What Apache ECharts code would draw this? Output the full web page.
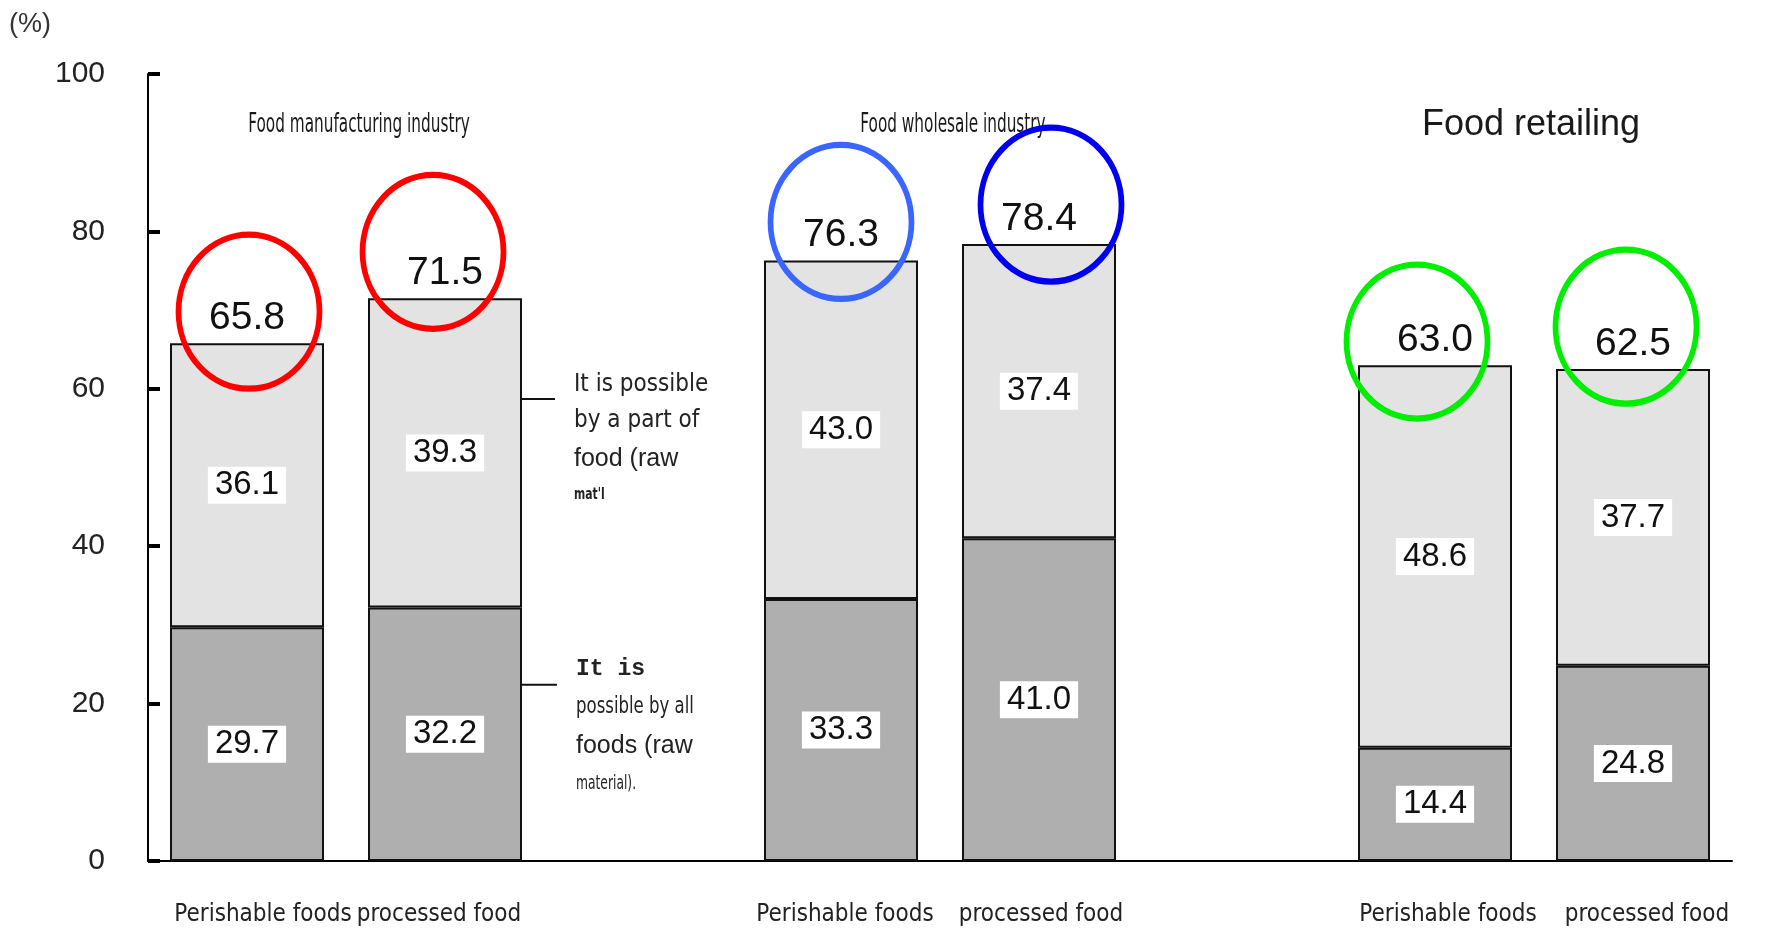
<!DOCTYPE html>
<html>
<head>
<meta charset="utf-8">
<script src="https://cdn.jsdelivr.net/npm/echarts@6/dist/echarts.min.js"></script>
<style>
html,body{margin:0;padding:0;background:#fff;}
#chart{width:1786px;height:941px;}
</style>
</head>
<body>
<div id="chart"></div>
<script>
// ---- data ----
const categories = ['Perishable foods', 'processed food', '', 'Perishable foods', 'processed food', '', 'Perishable foods', 'processed food'];
const possibleAll = [29.7, 32.2, '-', 33.3, 41.0, '-', 14.4, 24.8];
const possiblePart = [36.1, 39.3, '-', 43.0, 37.4, '-', 48.6, 37.7];
const totals = [65.8, 71.5, '-', 76.3, 78.4, '-', 63.0, 62.5];
const yTicks = [0, 20, 40, 60, 80, 100];
const groupTitles = ['Food manufacturing industry', 'Food wholesale industry', 'Food retailing'];
const groupIndex = [[0, 1], [3, 4], [6, 7]];
const circleCenters = [69.8, 77.4, '-', 81.2, 83.4, '-', 66.0, 67.9];
const circleColors = ['#ff0000', '#ff0000', null, '#3a66ff', '#0000ee', null, '#00ee00', '#00ee00'];
const unitLabel = '(%)';
const partLabel = ['It is possible', 'by a part of', 'food (raw', "mat'l"];
const allLabel = ['It is', 'possible by all', 'foods (raw', 'material).'];

const NARROW = "'Liberation Sans Narrow','Arial Narrow','DejaVu Sans Condensed','Liberation Sans',sans-serif";
const NUM = "'Liberation Sans',Arial,sans-serif";

const chart = echarts.init(document.getElementById('chart'));
const circleOffsetX = [2, -12, 0, 0, 12, 0, -18, -7];
const labelShift = [16, -6, 0, 4, 2, 0, 13, 14]; // px shift of category labels

const option = {
  animation: false,
  backgroundColor: '#ffffff',
  title: {
    text: unitLabel, left: 4, top: 6,
    textStyle: {fontFamily: NUM, fontSize: 27, fontWeight: 'normal', color: '#333'}
  },
  grid: {left: 148, right: 54, top: 74, bottom: 80, containLabel: false},
  xAxis: {
    type: 'category', data: categories, boundaryGap: true,
    axisLine: {lineStyle: {color: '#000', width: 2}},
    axisTick: {show: false},
    axisLabel: {
      interval: 0, margin: 42, color: '#222',
      fontFamily: NARROW, fontSize: 24,
      formatter: (v, i) => {
        if (!v) return '';
        const s = labelShift[i] || 0;
        return s >= 0 ? '{r|' + v + '}' : '{l|' + v + '}';
      },
      rich: {
        r: {fontFamily: NARROW, fontSize: 24, color: '#222'},
        l: {fontFamily: NARROW, fontSize: 24, color: '#222'}
      }
    }
  },
  yAxis: {
    type: 'value', min: 0, max: 100, interval: 20,
    splitLine: {show: false},
    axisLine: {show: true, lineStyle: {color: '#000', width: 2}},
    axisTick: {show: true, inside: true, length: 12, lineStyle: {color: '#000', width: 4}},
    axisLabel: {
      margin: 43, color: '#222', fontFamily: NUM, fontSize: 30,
      formatter: v => yTicks.indexOf(v) >= 0 ? String(v) : ''
    }
  },
  series: [
    {
      name: 'possible by all', type: 'bar', stack: 'total', barWidth: 154,
      data: possibleAll,
      itemStyle: {color: '#afafaf', borderColor: '#111', borderWidth: 2},
      label: {
        show: true, position: 'inside', color: '#111', fontFamily: NUM, fontSize: 33,
        backgroundColor: '#ffffff', padding: [3, 7, 1, 7],
        formatter: p => p.value.toFixed(1)
      }
    },
    {
      name: 'possible by a part', type: 'bar', stack: 'total', barWidth: 154,
      data: possiblePart,
      itemStyle: {color: '#e3e3e3', borderColor: '#111', borderWidth: 2},
      label: {
        show: true, position: 'inside', color: '#111', fontFamily: NUM, fontSize: 33,
        backgroundColor: '#ffffff', padding: [3, 7, 1, 7],
        formatter: p => p.value.toFixed(1)
      }
    },
    {
      name: 'total', type: 'scatter', data: totals, symbolSize: 1,
      itemStyle: {color: 'rgba(0,0,0,0)', opacity: 1},
      label: {
        show: true, position: 'top', distance: 5, color: '#111', opacity: 1,
        fontFamily: NUM, fontSize: 39,
        formatter: p => Number(Array.isArray(p.value) ? p.value[1] : p.value).toFixed(1)
      },
      z: 5
    },
    {
      name: 'circles', type: 'scatter',
      data: circleCenters.map((v, i) => v === '-' ? null : {
        value: [i, v],
        symbolOffset: [circleOffsetX[i], 0],
        itemStyle: {borderColor: circleColors[i]}
      }).filter(d => d),
      symbol: 'path://M0,50 A50,50 0 1,1 100,50 A50,50 0 1,1 0,50 Z',
      symbolSize: [141, 154],
      itemStyle: {color: 'rgba(0,0,0,0)', borderWidth: 6, opacity: 1},
      z: 6, silent: true
    }
  ]
};
// per-category label shift via rich padding
option.xAxis.axisLabel.formatter = (v, i) => {
  if (!v) return '';
  const s = labelShift[i] || 0;
  return '{t' + i + '|' + v + '}';
};
categories.forEach((c, i) => {
  const s = labelShift[i] || 0;
  option.xAxis.axisLabel.rich['t' + i] = {
    fontFamily: NARROW, fontSize: 24, color: '#222',
    padding: s >= 0 ? [0, 0, 0, 2 * s] : [0, -2 * s, 0, 0]
  };
});
chart.setOption(option);

function px(i, v) { return chart.convertToPixel({xAxisIndex: 0, yAxisIndex: 0}, [i, v]); }

const graphics = [];
// group titles
groupTitles.forEach((t, g) => {
  const a = px(groupIndex[g][0], 93.5), b = px(groupIndex[g][1], 93.5);
  const isRetail = g === 2;
  graphics.push({
    type: 'text', x: (a[0] + b[0]) / 2 + (isRetail ? -3 : 13), y: a[1],
    scaleX: isRetail ? 1 : 0.63,
    style: {
      text: t, align: 'center', verticalAlign: 'middle',
      font: isRetail ? ("36px " + NUM) : ("27px " + NARROW), fill: '#1a1a1a'
    }
  });
});
// leader lines and annotation texts
const barRight = px(1, 0)[0] + 77;
const lead1 = px(1, 58.7)[1];
const lead2 = px(1, 22.4)[1];
graphics.push({type: 'line', shape: {x1: barRight - 5, y1: lead1, x2: barRight + 33, y2: lead1}, style: {stroke: '#111', lineWidth: 2}});
graphics.push({type: 'line', shape: {x1: barRight - 3, y1: lead2, x2: barRight + 35, y2: lead2}, style: {stroke: '#111', lineWidth: 2}});
const tx = barRight + 52;
const part1Off = [-14, 22, 60, 96];
const part1Font = ["24px " + NARROW, "24px " + NARROW, "25px " + NUM, "bold 15px " + NARROW];
const part1Scale = [1, 1, 1, 0.8];
partLabel.forEach((s, k) => graphics.push({
  type: 'text', x: tx, y: lead1 + part1Off[k], scaleX: part1Scale[k],
  style: {text: s, align: 'left', verticalAlign: 'middle', font: part1Font[k], fill: '#222'}
}));
const part2Off = [-16, 22, 61, 99];
const part2Font = ["bold 23px 'Liberation Mono',monospace", "23px " + NARROW, "25px " + NUM, "19px " + NARROW];
const part2Scale = [1, 0.8, 1, 0.72];
allLabel.forEach((s, k) => graphics.push({
  type: 'text', x: tx + 2, y: lead2 + part2Off[k], scaleX: part2Scale[k],
  style: {text: s, align: 'left', verticalAlign: 'middle', font: part2Font[k], fill: '#222'}
}));
chart.setOption({graphic: graphics});
</script>
</body>
</html>
